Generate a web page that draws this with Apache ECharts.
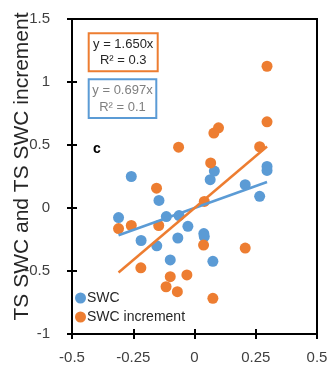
<!DOCTYPE html>
<html>
<head>
<meta charset="utf-8">
<script src="https://cdn.jsdelivr.net/npm/echarts@6/dist/echarts.min.js"></script>
<style>
  html, body { margin: 0; padding: 0; background: #fff; }
  #chart { width: 329px; height: 365px; }
</style>
</head>
<body>
<div id="chart"></div>
<script>
// Time-stability (TS) of SWC and of SWC increment against TS on the x axis
const swcX = [-0.310, -0.258, -0.218, -0.154, -0.145, -0.115, -0.063, -0.068, -0.027, -0.099,
              0.038, 0.040, 0.064, 0.081, 0.075, 0.207, 0.266, 0.296, 0.296];
const swcY = [-0.076, 0.250, -0.258, -0.300, 0.060, -0.068, -0.060, -0.238, -0.145, -0.412,
              -0.203, -0.227, 0.225, 0.293, -0.423, 0.185, 0.093, 0.330, 0.298];

const incX = [0.296, 0.296, 0.098, 0.079, -0.065, 0.266, 0.066, -0.155, 0.040, -0.310,
              -0.258, -0.146, 0.037, 0.207, -0.219, -0.099, -0.031, -0.116, -0.070, 0.075];
const incY = [1.125, 0.684, 0.636, 0.595, 0.483, 0.486, 0.358, 0.157, 0.052, -0.163,
              -0.139, -0.139, -0.294, -0.318, -0.475, -0.545, -0.531, -0.625, -0.664, -0.717];

// Fitted lines through the origin
const swcSlope = 0.697, swcR2 = 0.1;
const incSlope = 1.650, incR2 = 0.3;

const xTicks = ['-0.5', '-0.25', '0', '0.25', '0.5'];
const yTicks = ['-1', '-0.5', '0', '0.5', '1', '1.5'];

const seriesNames = ['SWC', 'SWC increment'];
const blue = '#5B9BD5', orange = '#ED7D31';
const font = '"Liberation Sans", Arial, sans-serif';

const zip = (xs, ys) => xs.map((x, i) => [x, ys[i]]);
const fitLine = (xs, k) => {
  const lo = Math.min(...xs), hi = Math.max(...xs);
  return [[lo, k * lo], [hi, k * hi]];
};
const label = (ticks) => (v) => {
  const hit = ticks.find(t => Math.abs(parseFloat(t) - v) < 1e-9);
  return hit !== undefined ? hit : '';
};

const axisLineStyle = { color: '#000', width: 2 };
const tickStyle = { color: '#000', width: 2 };

const baseX = {
  type: 'value', min: -0.5, max: 0.5, interval: 0.25, position: 'bottom',
  splitLine: { show: false },
  axisLine: { show: true, onZero: false, lineStyle: axisLineStyle }
};
const baseY = {
  type: 'value', min: -1, max: 1.5, interval: 0.5, position: 'left',
  splitLine: { show: false },
  axisLine: { show: true, onZero: false, lineStyle: axisLineStyle }
};

const chart = echarts.init(document.getElementById('chart'), null, { renderer: 'canvas' });
chart.setOption({
  backgroundColor: '#fff',
  animation: false,
  grid: { left: 72, right: 12, top: 19, bottom: 31, show: true, borderColor: '#000', borderWidth: 2,
          backgroundColor: 'transparent', containLabel: false, outerBoundsMode: 'none' },
  xAxis: [
    Object.assign({}, baseX, {
      axisTick: { show: true, length: 5, lineStyle: tickStyle },
      axisLabel: { margin: 16, fontSize: 15, color: '#404040', fontFamily: font, formatter: label(xTicks) }
    }),
    Object.assign({}, baseX, {
      axisTick: { show: true, inside: true, length: 5, lineStyle: tickStyle },
      axisLabel: { show: false }
    })
  ],
  yAxis: [
    Object.assign({}, baseY, {
      axisTick: { show: true, length: 5, lineStyle: tickStyle },
      axisLabel: { margin: 22, fontSize: 15, color: '#404040', fontFamily: font, formatter: label(yTicks) },
      name: 'TS SWC and TS SWC increment',
      nameLocation: 'middle',
      nameGap: 39,
      nameMoveOverlap: false,
      nameTextStyle: { fontSize: 21, color: '#262626', fontFamily: font, padding: [0, 0, 0, 20] }
    }),
    Object.assign({}, baseY, {
      axisTick: { show: true, inside: true, length: 5, lineStyle: tickStyle },
      axisLabel: { show: false }
    })
  ],
  legend: {
    data: seriesNames,
    orient: 'vertical',
    left: 75, top: 291,
    padding: 0,
    itemWidth: 11, itemHeight: 11, itemGap: 5,
    icon: 'circle',
    textStyle: { fontSize: 14, color: '#262626', fontFamily: font, padding: [0, 0, 0, -4] }
  },
  graphic: [
    { type: 'rect', shape: { x: 88.7, y: 33.3, width: 69, height: 38 },
      style: { fill: '#fff', stroke: orange, lineWidth: 2 }, z: 20 },
    { type: 'text', x: 123.2, y: 52.8, z: 21,
      style: { text: 'y = ' + incSlope.toFixed(3) + 'x\nR² = ' + incR2, align: 'center', verticalAlign: 'middle',
               fontSize: 13, lineHeight: 16, fill: '#262626', fontFamily: font } },
    { type: 'rect', shape: { x: 88.7, y: 79.3, width: 67.6, height: 38.7 },
      style: { fill: '#fff', stroke: blue, lineWidth: 2 }, z: 20 },
    { type: 'text', x: 122.5, y: 99, z: 21,
      style: { text: 'y = ' + swcSlope.toFixed(3) + 'x\nR² = ' + swcR2, align: 'center', verticalAlign: 'middle',
               fontSize: 13, lineHeight: 16.5, fill: '#7F7F7F', fontFamily: font } },
    { type: 'text', x: 97, y: 149.5, z: 21,
      style: { text: 'c', align: 'center', verticalAlign: 'middle', fontSize: 14, fontWeight: 'bold', fill: '#000', fontFamily: font } }
  ],
  series: [
    { name: seriesNames[0], type: 'scatter', symbol: 'circle', symbolSize: 11,
      itemStyle: { color: blue, opacity: 1 }, data: zip(swcX, swcY), z: 2 },
    { name: seriesNames[1], type: 'scatter', symbol: 'circle', symbolSize: 11,
      itemStyle: { color: orange, opacity: 1 }, data: zip(incX, incY), z: 3 },
    { name: 'SWC fit', type: 'line', data: fitLine(swcX, swcSlope), symbol: 'none', silent: true,
      lineStyle: { color: blue, width: 2.5 }, z: 4 },
    { name: 'SWC increment fit', type: 'line', data: fitLine(incX, incSlope), symbol: 'none', silent: true,
      lineStyle: { color: orange, width: 2.5 }, z: 5 }
  ]
});
</script>
</body>
</html>
